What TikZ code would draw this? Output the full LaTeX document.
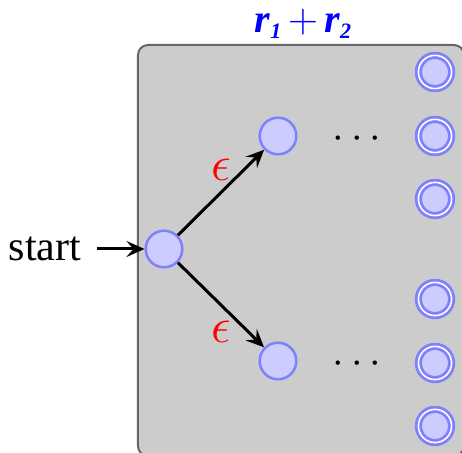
\documentclass[tikz,border=0pt]{standalone}
\usepackage{fontspec}
\usetikzlibrary{arrows.meta}
\newfontfamily\serifB{Liberation Serif}
\definecolor{stfill}{HTML}{CCCCFF}
\definecolor{stdraw}{HTML}{8080FF}
\definecolor{boxfill}{HTML}{CCCCCC}
\definecolor{boxdraw}{HTML}{666666}
\newcommand\fsA{\fontsize{20}{22}\selectfont}
\newcommand\fsB{\fontsize{21}{23}\selectfont}
\newcommand\fsC{\fontsize{24}{26}\selectfont}
\newcommand\subd[1]{\raisebox{-3pt}{\fontsize{11}{11}\selectfont\serifB\bfseries #1}}
\begin{document}
\begin{tikzpicture}[x=0.5pt,y=-0.5pt,
  stnode/.style={circle,draw=stdraw,fill=stfill,line width=1.25pt,minimum size=18.3pt,inner sep=0pt},
  accnode/.style={circle,draw=stdraw,fill=stfill,line width=1.4pt,double=white,double distance=0.8pt,minimum size=16.6pt,inner sep=0pt},
  conn/.style={line width=1.5pt,-{Stealth[length=9pt,width=8pt,inset=3.5pt]}},
  elabel/.style={text=red,font=\fsC}]
\clip (0,0) rectangle (462,453);
\draw[fill=boxfill,draw=boxdraw,line width=1pt,rounded corners=5pt] (138,45) rectangle (464,456);
\node[text=blue,font=\fsA\serifB,inner sep=0pt] (ttl) at (303,24) {\bfseries\itshape r\subd{1}\,\upshape\mdseries$+$\,\bfseries\itshape r\subd{2}};
\node[stnode] (s) at (164,249) {};
\node[stnode] (u) at (278,136) {};
\node[stnode] (l) at (278,361) {};
\node[font=\fsB\serifB,inner sep=2pt] (starttxt) at (45,249) {start};
\node[font=\fsB] (du) at (357,139) {$\cdots$};
\node[font=\fsB] (dl) at (357,364) {$\cdots$};
\node[accnode] (a1) at (435,72) {};
\node[accnode] (a2) at (435,136) {};
\node[accnode] (a3) at (435,199) {};
\node[accnode] (a4) at (435,299) {};
\node[accnode] (a5) at (435,363) {};
\node[accnode] (a6) at (435,426) {};
\coordinate (sa) at (97,249);
\draw[conn] (sa) -- (s);
\draw[conn] (s) -- node[elabel,pos=0.5,yshift=11.5pt] (e1) {$\epsilon$} (u);
\draw[conn] (s) -- node[elabel,pos=0.5,yshift=-13.5pt] (e2) {$\epsilon$} (l);
\end{tikzpicture}
\end{document}
